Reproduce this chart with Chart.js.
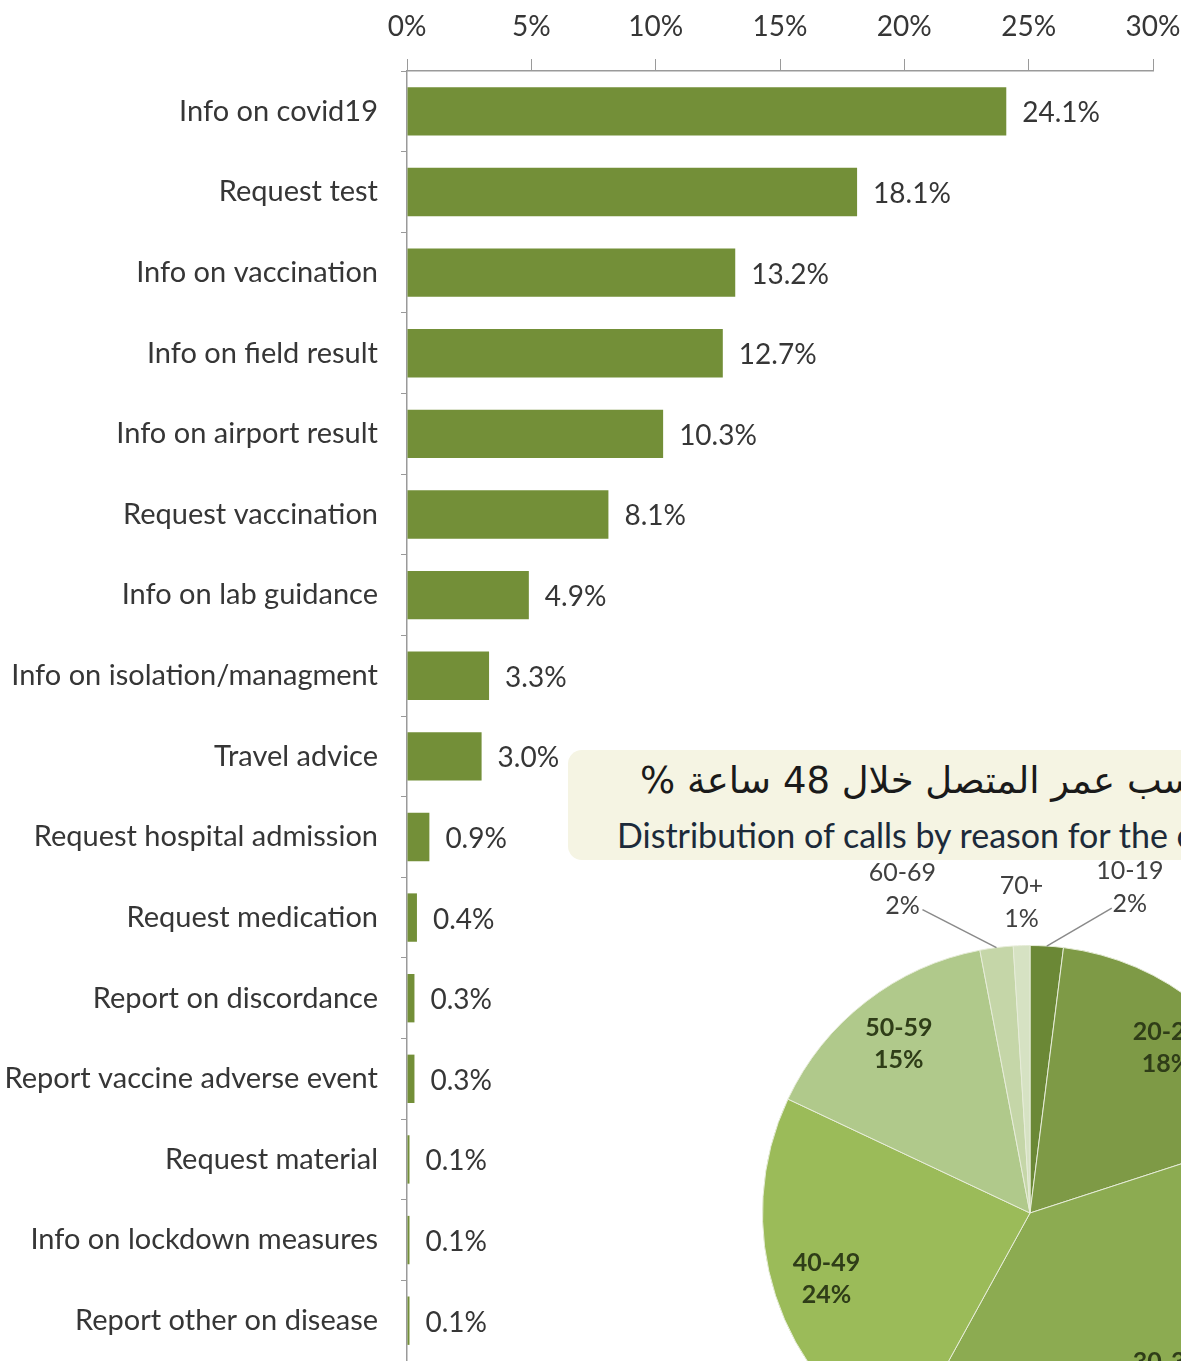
<!DOCTYPE html>
<html lang="en">
<head>
  <meta charset="UTF-8">
  <title>Calls by reason</title>
  <style>
    html, body {
      margin: 0;
      padding: 0;
      background: #ffffff;
    }
    #page {
      position: relative;
      width: 1181px;
      height: 1361px;
      overflow: hidden;
      font-family: Lato, "Open Sans", sans-serif;
    }
    #barChart {
      position: absolute;
      left: 0;
      top: 0;
    }
    #titleBox {
      position: absolute;
      left: 568px;
      top: 750px;
      width: 900px;
      height: 110px;
      background: #f5f4e3;
      border-radius: 14px;
    }
    #titleAr {
      position: absolute;
      left: 640px;
      top: 759px;
      white-space: nowrap;
      font-family: "DejaVu Sans", sans-serif;
      font-size: 37px;
      color: #1a1a1a;
    }
    #titleEn {
      position: absolute;
      left: 617px;
      top: 814px;
      white-space: nowrap;
      font-size: 34px;
      color: #1c2a3a;
    }
    #pieChart {
      position: absolute;
      left: 650px;
      top: 833px;
    }
  </style>
  <script src="https://cdn.jsdelivr.net/npm/chart.js"></script>
</head>
<body>
  <div id="page">
    <canvas id="barChart" width="1181" height="1361"></canvas>
    <div id="titleBox"></div>
    <div id="titleAr" dir="rtl">توزيع المكالمات حسب عمر المتصل خلال 48 ساعة %</div>
    <div id="titleEn">Distribution of calls by reason for the caller age in 48 hours %</div>
    <canvas id="pieChart" width="760" height="760"></canvas>
  </div>

  <script>
    // bar chart data
    const reasons = [
      'Info on covid19',
      'Request test',
      'Info on vaccination',
      'Info on field result',
      'Info on airport result',
      'Request vaccination',
      'Info on lab guidance',
      'Info on isolation/managment',
      'Travel advice',
      'Request hospital admission',
      'Request medication',
      'Report on discordance',
      'Report vaccine adverse event',
      'Request material',
      'Info on lockdown measures',
      'Report other on disease'
    ];
    const reasonShares = [24.1, 18.1, 13.2, 12.7, 10.3, 8.1, 4.9, 3.3, 3.0, 0.9, 0.4, 0.3, 0.3, 0.1, 0.1, 0.1];
    const xTicks = [0, 5, 10, 15, 20, 25, 30];

    // pie chart data
    const ageGroups = ['10-19', '20-29', '30-39', '40-49', '50-59', '60-69', '70+'];
    const ageShares = [2, 18, 38, 24, 15, 2, 1];

    const textColor = '#363636';
    const labelFont = 'Lato, "Open Sans", sans-serif';

    // value labels at the end of each bar
    const barValueLabels = {
      id: 'barValueLabels',
      afterDatasetsDraw(chart) {
        const ctx = chart.ctx;
        const meta = chart.getDatasetMeta(0);
        ctx.save();
        ctx.font = '28px ' + labelFont;
        ctx.fillStyle = textColor;
        ctx.textBaseline = 'middle';
        ctx.textAlign = 'left';
        meta.data.forEach((bar, i) => {
          ctx.fillText(reasonShares[i].toFixed(1) + '%', bar.x + 16, bar.y + 2);
        });
        ctx.restore();
      }
    };

    new Chart(document.getElementById('barChart'), {
      type: 'bar',
      data: {
        labels: reasons,
        datasets: [{
          data: reasonShares,
          backgroundColor: '#738f38',
          borderWidth: 0,
          barPercentage: 0.6,
          categoryPercentage: 1
        }]
      },
      plugins: [barValueLabels],
      options: {
        indexAxis: 'y',
        responsive: false,
        animation: false,
        layout: { padding: { top: 3, right: 28, bottom: 0, left: 0 } },
        plugins: {
          legend: { display: false },
          tooltip: { enabled: false }
        },
        scales: {
          x: {
            position: 'top',
            min: 0,
            max: 30,
            afterBuildTicks(scale) {
              scale.ticks = xTicks.map(v => ({ value: v }));
            },
            afterFit(scale) {
              scale.height = 68;
              scale.paddingLeft = 0;
              scale.paddingRight = 0;
            },
            border: { color: '#9a9a9a', width: 1.5 },
            grid: {
              drawOnChartArea: false,
              tickLength: 12,
              color: '#9a9a9a'
            },
            ticks: {
              padding: 15,
              color: textColor,
              font: { family: labelFont, size: 28 },
              callback: v => v + '%'
            }
          },
          y: {
            afterFit(scale) {
              scale.width = 407;
              scale.paddingTop = 0;
              scale.paddingBottom = 0;
            },
            border: { color: '#9a9a9a', width: 1.5 },
            grid: {
              drawOnChartArea: false,
              tickLength: 6,
              color: '#9a9a9a'
            },
            ticks: {
              padding: 23,
              color: textColor,
              font: { family: labelFont, size: 29 }
            }
          }
        }
      }
    });

    // slice labels: big slices inside, small ones outside with a leader line
    const outsideLabels = {
      0: { dx: 83, dy: -42, line: true },
      5: { dx: -94, dy: -42, line: true },
      6: { dx: 0, dy: -27, line: false }
    };

    const pieLabels = {
      id: 'pieLabels',
      afterDatasetsDraw(chart) {
        const ctx = chart.ctx;
        const meta = chart.getDatasetMeta(0);
        ctx.save();
        ctx.textAlign = 'center';
        ctx.textBaseline = 'middle';
        meta.data.forEach((arc, i) => {
          const mid = (arc.startAngle + arc.endAngle) / 2;
          const lines = [ageGroups[i], ageShares[i] + '%'];
          const out = outsideLabels[i];
          if (out) {
            const ex = arc.x + Math.cos(mid) * arc.outerRadius;
            const ey = arc.y + Math.sin(mid) * arc.outerRadius;
            const lx = ex + out.dx;
            const ly = ey + out.dy;
            if (out.line) {
              ctx.strokeStyle = '#8a8a8a';
              ctx.lineWidth = 1.5;
              ctx.beginPath();
              ctx.moveTo(ex, ey);
              ctx.lineTo(lx + (out.dx > 0 ? -18 : 20), ly + 4);
              ctx.stroke();
            }
            ctx.font = '25px ' + labelFont;
            ctx.fillStyle = '#404040';
            ctx.fillText(lines[0], lx, ly - 33);
            ctx.fillText(lines[1], lx, ly);
          } else {
            const r = arc.outerRadius * 0.8;
            const lx = arc.x + Math.cos(mid) * r;
            const ly = arc.y + Math.sin(mid) * r;
            ctx.font = 'bold 25px ' + labelFont;
            ctx.fillStyle = '#2f3d18';
            ctx.fillText(lines[0], lx, ly - 16);
            ctx.fillText(lines[1], lx, ly + 16);
          }
        });
        ctx.restore();
      }
    };

    new Chart(document.getElementById('pieChart'), {
      type: 'pie',
      data: {
        labels: ageGroups,
        datasets: [{
          data: ageShares,
          backgroundColor: ['#6b8836', '#7e9a46', '#8cab51', '#9bbb59', '#b0c98b', '#c5d6a8', '#d6e2c3'],
          borderColor: '#e6ecd8',
          borderWidth: 1
        }]
      },
      plugins: [pieLabels],
      options: {
        responsive: false,
        animation: false,
        layout: { padding: 112 },
        plugins: {
          legend: { display: false },
          tooltip: { enabled: false }
        }
      }
    });
  </script>
</body>
</html>
